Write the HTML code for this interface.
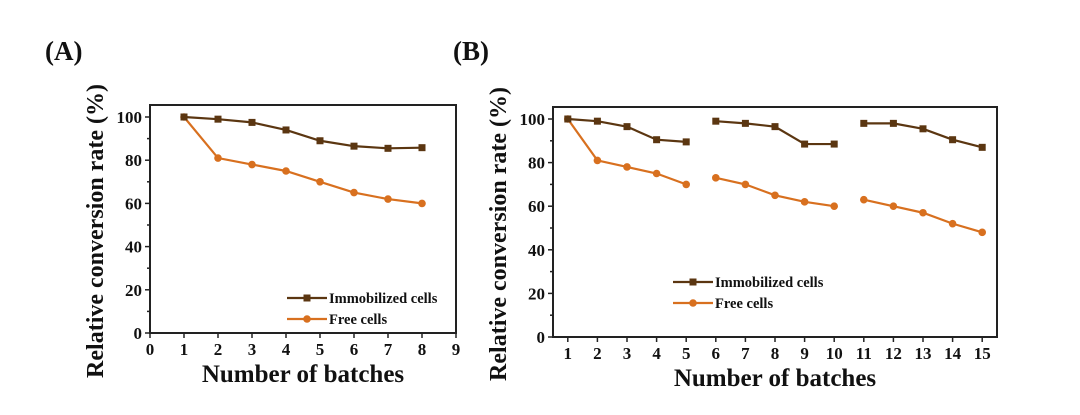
<!DOCTYPE html>
<html><head><meta charset="utf-8"><style>
body{margin:0;background:#fff;width:1080px;height:410px;overflow:hidden}
svg text{font-family:"Liberation Serif",serif;font-weight:bold;fill:#111}
</style></head><body>
<svg id="s" width="1080" height="410" xmlns="http://www.w3.org/2000/svg"></svg>
<script>
const aBatches=[1,2,3,4,5,6,7,8];
const aImmob=[100,99,97.5,94,89,86.5,85.5,85.8];
const aFree=[100,81,78,75,70,65,62,60];
const bBatches=[[1,2,3,4,5],[6,7,8,9,10],[11,12,13,14,15]];
const bImmob=[[100,99,96.5,90.5,89.5],[99,98,96.5,88.5,88.5],[98,98,95.5,90.5,87]];
const bFree=[[100,81,78,75,70],[73,70,65,62,60],[63,60,57,52,48]];
const yTicks=[0,20,40,60,80,100];
const aXTicks=[0,1,2,3,4,5,6,7,8,9];
const bXTicks=[1,2,3,4,5,6,7,8,9,10,11,12,13,14,15];
const C1='#5b3611',C2='#d8701f';
const S=document.getElementById('s');const NS='http://www.w3.org/2000/svg';
function el(t,a,p){const e=document.createElementNS(NS,t);for(const k in a)e.setAttribute(k,a[k]);(p||S).appendChild(e);return e;}
function txt(x,y,s,size,anchor,p){const e=el('text',{x:x,y:y,'font-size':size,'text-anchor':anchor||'middle'},p);e.textContent=s;return e;}
function panel(cfg){
 const g=el('g',{});
 
 
 const X=v=>cfg.x0+(v-cfg.xmin)/(cfg.xmax-cfg.xmin)*(cfg.x1-cfg.x0);
 const Y=v=>cfg.y0-(v/100)*(cfg.y0-cfg.y100);
 const r=el('rect',{x:cfg.x0,y:cfg.top,width:cfg.x1-cfg.x0,height:cfg.y0-cfg.top,fill:'none',stroke:'#222','stroke-width':2},g);
 
 for(let v=0;v<=100;v+=10){el('line',{x1:cfg.x0,x2:cfg.x0-(v%20?3:5),y1:Y(v),y2:Y(v),stroke:'#222','stroke-width':1.5},g);}
 yTicks.forEach(v=>{const t=txt(cfg.x0-8,Y(v)+6,String(v),17,'end',g);});
 cfg.xt.forEach(v=>{el('line',{x1:X(v),x2:X(v),y1:cfg.y0,y2:cfg.y0+5,stroke:'#222','stroke-width':1.5},g);
  const t=txt(X(v),cfg.y0+22,String(v),17,'middle',g);});
 const xt=txt((cfg.x0+cfg.x1)/2,cfg.y0+49,'Number of batches',25,'middle',g);
 
 const yt=txt(0,0,'Relative conversion rate (%)',24,'middle',g);
 yt.setAttribute('transform','translate('+(cfg.x0-47)+','+((cfg.top+cfg.y0)/2+12)+') rotate(-90)');
 
 const pl=txt(cfg.lx,60,cfg.label,27,'start',g);
 function series(xs,ys,col,sq,nm){
  const pts=xs.map((x,i)=>X(x)+','+Y(ys[i])).join(' ');
  const l=el('polyline',{points:pts,fill:'none',stroke:col,'stroke-width':2.2},g);
  
  xs.forEach((x,i)=>{const m=sq?el('rect',{x:X(x)-3.5,y:Y(ys[i])-3.5,width:7,height:7,fill:col},g):el('circle',{cx:X(x),cy:Y(ys[i]),r:3.8,fill:col},g);
   });
 }
 cfg.segs.forEach((xs,i)=>{series(xs,cfg.fr[i],C2,false,'free-cells');series(xs,cfg.im[i],C1,true,'immobilized-cells');});
 [[C1,'Immobilized cells',cfg.ly,true],[C2,'Free cells',cfg.ly+21,false]].forEach(([c,s,y,sq])=>{
  const lg=el('g',{},g);
  el('line',{x1:cfg.lgx,x2:cfg.lgx+40,y1:y,y2:y,stroke:c,'stroke-width':2.2},lg);
  if(sq)el('rect',{x:cfg.lgx+16.5,y:y-3.5,width:7,height:7,fill:c},lg);else el('circle',{cx:cfg.lgx+20,cy:y,r:3.8,fill:c},lg);
  txt(cfg.lgx+42,y+5,s,14.5,'start',lg);
 });
}
panel({name:'chart-a',x0:150,x1:456,xmin:0,xmax:9,top:105,y0:333,y100:117,xt:aXTicks,segs:[aBatches],im:[aImmob],fr:[aFree],label:'(A)',lx:45,lgx:287,ly:298});
panel({name:'chart-b',x0:553,x1:997,xmin:0.5,xmax:15.5,top:107,y0:337,y100:119,xt:bXTicks,segs:bBatches,im:bImmob,fr:bFree,label:'(B)',lx:453,lgx:673,ly:282});
</script>
</body></html>
